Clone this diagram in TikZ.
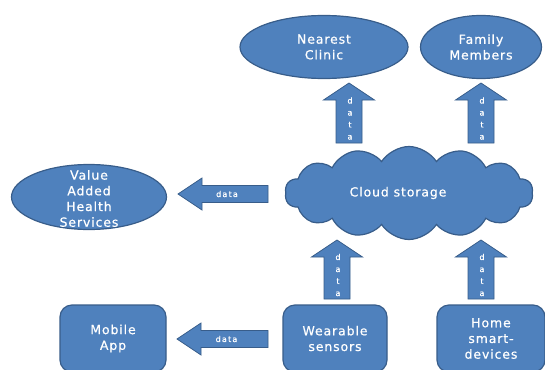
\documentclass[tikz,border=0pt]{standalone}
\usepackage{fontspec}
\setmainfont{DejaVu Sans}
\newfontfamily\boxfont{DejaVu Sans}[LetterSpace=7, FakeBold=0.6]
\newfontfamily\datafont{DejaVu Sans}[LetterSpace=15, FakeBold=0.8]
\usetikzlibrary{shapes.geometric, shapes.symbols}

\definecolor{officeblue}{HTML}{4F81BD}
\definecolor{officeedge}{HTML}{385D8A}

\tikzset{
  blob/.style={fill=officeblue, draw=officeedge, line width=1.2pt},
  txt/.style={text=white, align=center, font=\boxfont\fontsize{12.5}{15.7}\selectfont},
  bubble/.style={blob, txt, ellipse, inner sep=0pt},
  device/.style={blob, txt, rounded corners=12pt, inner sep=0pt},
  flow/.style={blob, line width=0.8pt},
  datalbl/.style={text=white, inner sep=0pt, align=center,
    font=\datafont\fontsize{8}{12}\selectfont},
}

% block arrow pointing up: name, x, tail y, tip y
\newcommand\upflow[4]{%
  \draw[flow] (#2-13,#3) -- (#2+13,#3) -- (#2+13,#4+17) -- (#2+25.5,#4+17)
    -- (#2,#4) -- (#2-25.5,#4+17) -- (#2-13,#4+17) -- cycle;
  \node[datalbl] (#1) at (#2+1,{(#3+#4+17)/2-3}) {d\\a\\t\\a};}
% block arrow pointing left: name, y, tail x, tip x
\newcommand\leftflow[4]{%
  \draw[flow] (#3,#2-8.5) -- (#3,#2+8.5) -- (#4+24,#2+8.5) -- (#4+24,#2+16)
    -- (#4,#2) -- (#4+24,#2-16) -- (#4+24,#2-8.5) -- cycle;
  \node[datalbl] (#1) at ({(#3+#4+24)/2-8},#2) {data};}

\begin{document}
\begin{tikzpicture}[x=1pt, y=-1pt]
  \clip (0,0) rectangle (545,369);
  \fill[white] (0,0) rectangle (545,369);

  \node[bubble, minimum width=168pt, minimum height=63pt] (clinic) at (324,47) {Nearest\\Clinic};
  \node[bubble, minimum width=121pt, minimum height=63pt] (family) at (481,47) {Family\\Members};
  \node[bubble, minimum width=155pt, minimum height=65pt,
    label={[txt, yshift=-1.5pt]center:{Value\\Added\\Health\\Services}}] (vahs) at (89,197) {};

  \node[cloud, blob, cloud puffs=14, cloud puff arc=115, cloud ignores aspect,
    minimum width=248pt, minimum height=93pt,
    label={[txt, xshift=-11pt]center:Cloud storage}] (cloud) at (409,193) {};

  \node[device, minimum width=106pt, minimum height=67pt] (app) at (113,338.5) {Mobile\\App};
  \node[device, minimum width=104pt, minimum height=67pt] (wear) at (335,338.5) {Wearable\\sensors};
  \node[device, minimum width=108pt, minimum height=67pt] (home) at (491,338.5) {Home\\smart-\\devices};

  \upflow{toclinic}{349}{143}{83}
  \upflow{tofamily}{481}{143}{83}
  \upflow{fromwear}{337}{299}{240}
  \upflow{fromhome}{481}{299}{240}
  \leftflow{tovahs}{194}{268}{178}
  \leftflow{toapp}{339}{268}{177}
\end{tikzpicture}
\end{document}
